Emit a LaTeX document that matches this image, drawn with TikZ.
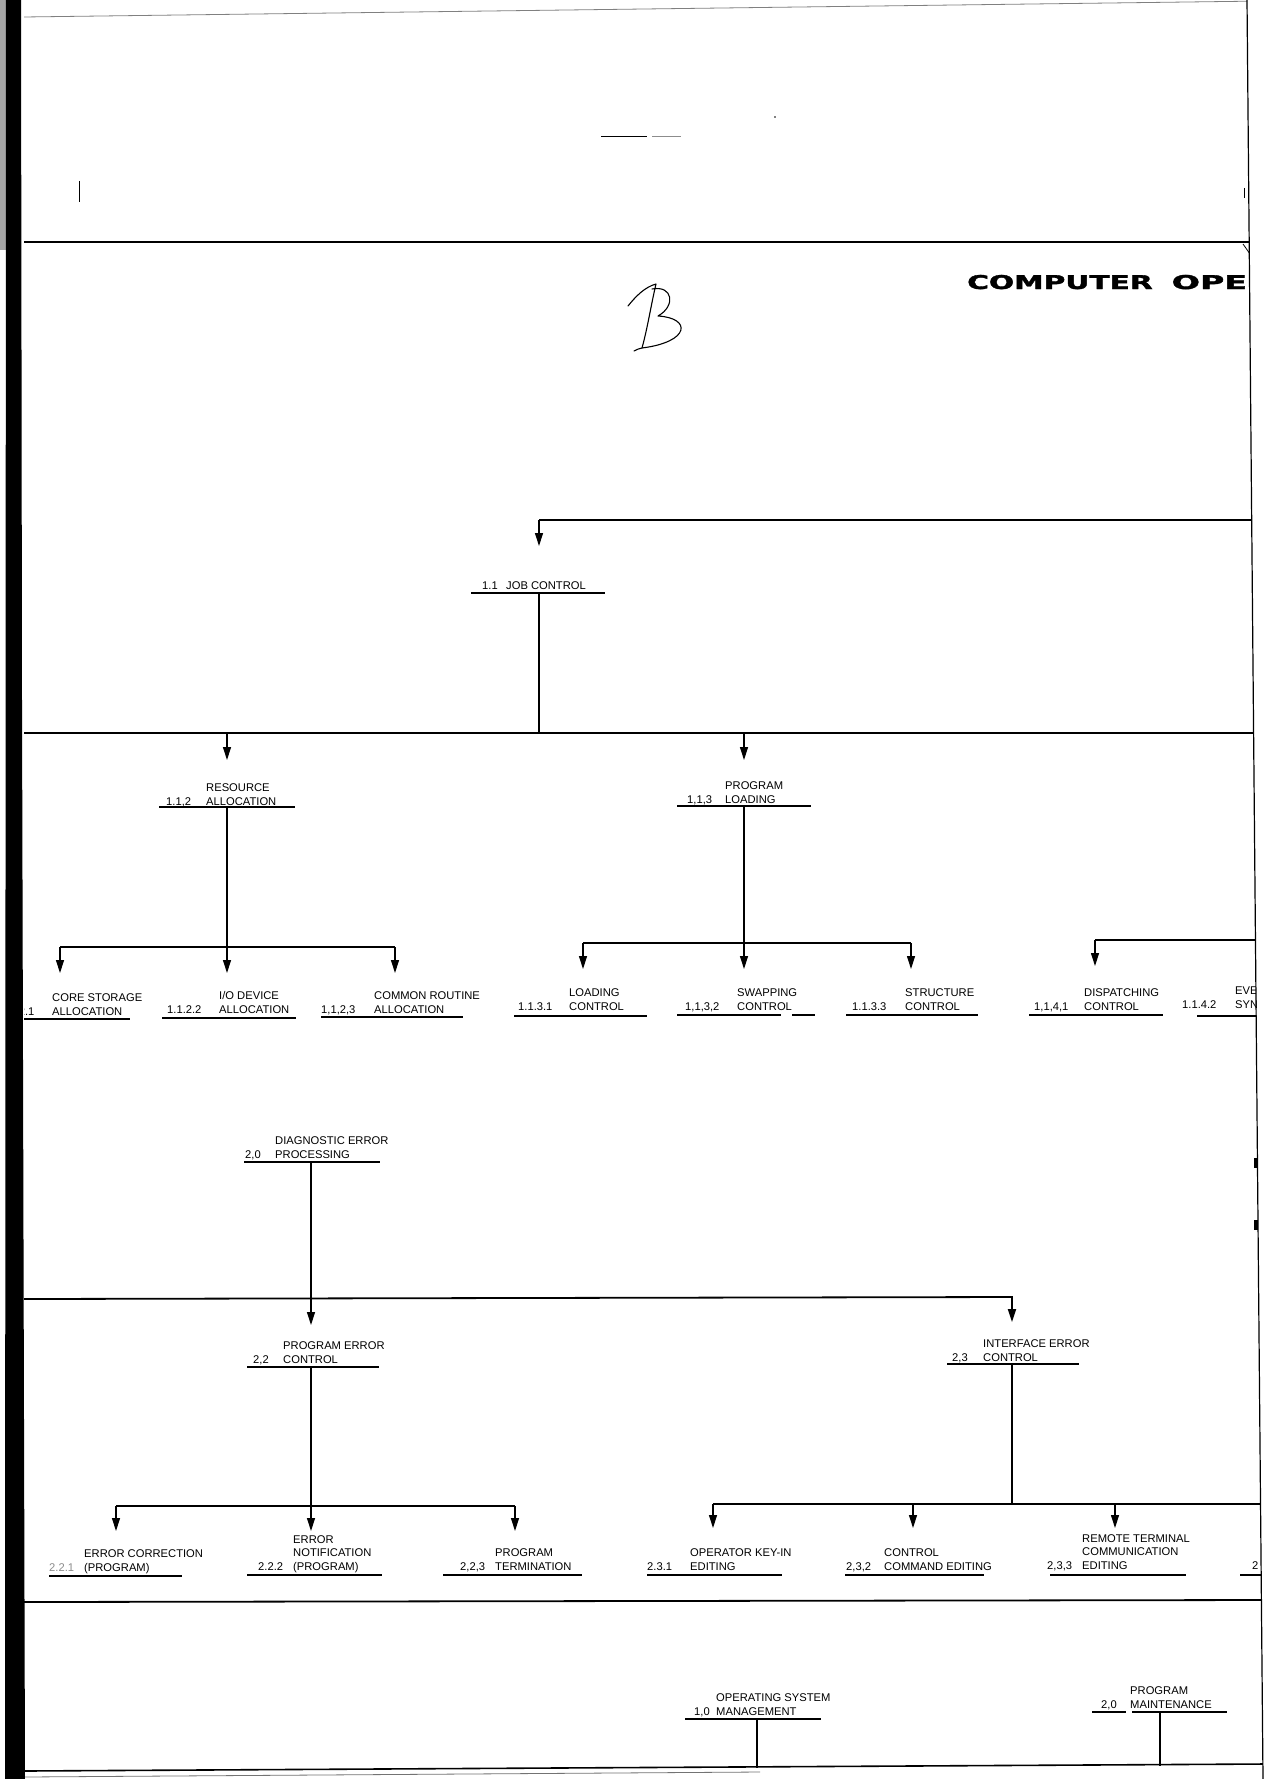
\documentclass[tikz,border=0pt]{standalone}
\usepackage{fontspec}
\setmainfont{Liberation Sans}
\newfontfamily\titlefont[FakeBold=1.6]{DejaVu Sans Bold}
\usetikzlibrary{arrows.meta}
\newcommand\lblfont{\fontsize{11.2}{13.5}\selectfont}
\newcommand\stk[1]{\begin{tabular}[b]{@{}l@{}}#1\end{tabular}}
\newcommand\mklabel[6]{%
  \node[lbl] (#1n) at (#2,#4) {#5};
  \node[lbl] (#1t) at (#3,#4) {\stk{#6}};}
\begin{document}
\begin{tikzpicture}[x=1pt,y=-1pt,
  lbl/.style={font=\lblfont, inner sep=0pt, anchor=base west},
  ul/.style={line width=1.7pt},
  bus/.style={line width=1.8pt},
  conn/.style={line width=1.1pt},
  arr/.style={line width=1.2pt, -{Triangle[length=13pt,width=8pt]}},
  tickline/.style={line width=1pt}]
\useasboundingbox (0,0) rectangle (1275,1779);
\fill[white] (0,0) rectangle (1275,1779);

\begin{scope}
\clip (24,0) -- (1247,0) -- (1263,1779) -- (24,1779) -- cycle;
% ---------- top area marks
\draw[black!50, line width=0.8pt] (24,17) -- (1265,1);
\draw[tickline] (79,181) -- (79,202);
\draw[line width=0.9pt] (601,136) -- (647,136);
\draw[black!45, line width=0.8pt] (652,136) -- (681,136);
\fill (775,117) circle (0.9);
\draw[tickline] (1244,188) -- (1244,198);
\draw[line width=0.8pt] (1243,244) -- (1250,254);
\draw[line width=1.8pt] (24,242) -- (1265,242);

% ---------- title
\node[inner sep=0pt, anchor=base west] (title) at (967,289)
  {\titlefont\fontsize{19}{19}\selectfont\scalebox{1.56}[1]{COMPUTER}\hspace{19pt}\scalebox{1.75}[1]{OPE}};

% ---------- handwritten B
\draw[line width=1.1pt, line cap=round, line join=round]
  (628,306) .. controls (636,296) and (645,287) .. (656,284)
  .. controls (651,305) and (648,326) .. (642,348);
\draw[line width=1.1pt, line cap=round, line join=round]
  (652,289) .. controls (673,285) and (676,306) .. (658,316)
  .. controls (692,318) and (690,342) .. (642,348)
  .. controls (639,349) and (637,349) .. (634,351);

% ---------- bus 0 and job control
\coordinate (b0R) at (1265,520);
\coordinate (b0L) at (539,520);
\coordinate (jcA) at (539,546);
\draw[bus] (b0R) -- (b0L);
\draw[arr] (b0L) -- (jcA);
\mklabel{jc}{482}{506}{589}{1.1}{JOB CONTROL}
\draw[ul] (471,593) -- (605,593);
\coordinate (jcU) at (539,593);
\coordinate (b1j) at (539,733);
\draw[conn] (jcU) -- (b1j);

% ---------- bus 1
\coordinate (b1L) at (24,733);
\coordinate (b1R) at (1265,733);
\draw[bus] (b1L) -- (b1R);
\coordinate (b1a) at (227,733); \coordinate (rsA) at (227,760);
\coordinate (b1b) at (744,733); \coordinate (plA) at (744,760);
\draw[arr] (b1a) -- (rsA);
\draw[arr] (b1b) -- (plA);

% resource allocation
\mklabel{rs}{166}{206}{805}{1.1,2}{RESOURCE\\ALLOCATION}
\draw[ul] (159,807) -- (295,807);
\coordinate (rsU) at (227,807);
\coordinate (b2aM) at (227,947);
\draw[conn] (rsU) -- (b2aM);
\coordinate (b2aL) at (60,947); \coordinate (b2aR) at (395,947);
\draw[bus] (b2aL) -- (b2aR);
\coordinate (csA) at (60,973); \coordinate (ioA) at (227,973); \coordinate (crA) at (395,973);
\draw[arr] (b2aL) -- (csA);
\draw[arr] (b2aM) -- (ioA);
\draw[arr] (b2aR) -- (crA);

% program loading
\mklabel{pl}{687}{725}{803}{1,1,3}{PROGRAM\\LOADING}
\draw[ul] (677,806) -- (811,806);
\coordinate (plU) at (744,806);
\coordinate (b2bM) at (744,943);
\draw[conn] (plU) -- (b2bM);
\coordinate (b2bL) at (583,943); \coordinate (b2bR) at (911,943);
\draw[bus] (b2bL) -- (b2bR);
\coordinate (loA) at (583,969); \coordinate (swA) at (744,969); \coordinate (stA) at (911,969);
\draw[arr] (b2bL) -- (loA);
\draw[arr] (b2bM) -- (swA);
\draw[arr] (b2bR) -- (stA);

% dispatching branch
\coordinate (b2cL) at (1095,940); \coordinate (b2cR) at (1265,940);
\draw[bus] (b2cR) -- (b2cL);
\coordinate (dsA) at (1095,966);
\draw[arr] (b2cL) -- (dsA);

% ---------- leaves row 1
\mklabel{cs}{0}{52}{1015}{1.1.2.1}{CORE STORAGE\\ALLOCATION}
\draw[ul] (24,1019) -- (130,1019);
\mklabel{io}{167}{219}{1013}{1.1.2.2}{I/O DEVICE\\ALLOCATION}
\draw[ul] (162,1018) -- (296,1018);
\mklabel{cr}{321}{374}{1013}{1,1,2,3}{COMMON ROUTINE\\ALLOCATION}
\draw[ul] (321,1017) -- (463,1017);
\mklabel{lo}{518}{569}{1010}{1.1.3.1}{LOADING\\CONTROL}
\draw[ul] (514,1016) -- (647,1016);
\mklabel{sw}{685}{737}{1010}{1,1,3,2}{SWAPPING\\CONTROL}
\draw[ul] (677,1015) -- (781,1015);
\draw[ul] (792,1015) -- (815,1015);
\mklabel{st}{852}{905}{1010}{1.1.3.3}{STRUCTURE\\CONTROL}
\draw[ul] (846,1015) -- (978,1015);
\mklabel{ds}{1034}{1084}{1010}{1,1,4,1}{DISPATCHING\\CONTROL}
\draw[ul] (1029,1015) -- (1163,1015);
\mklabel{ev}{1182}{1235}{1008}{1.1.4.2}{EVE\\SYN}
\draw[ul] (1197,1016) -- (1265,1016);

% ---------- diagnostic error processing
\mklabel{dg}{245}{275}{1158}{2,0}{DIAGNOSTIC ERROR\\PROCESSING}
\draw[ul] (244,1162) -- (380,1162);
\coordinate (dgU) at (311,1162);
\coordinate (peA) at (311,1325);
\draw[arr] (dgU) -- (peA);

% bus 3
\coordinate (b3L) at (24,1299);
\coordinate (b3R) at (1012,1297);
\coordinate (ieA) at (1012,1322);
\draw[bus, -{Triangle[length=13pt,width=8pt]}] (b3L) -- (b3R) -- (ieA);

% program error control
\mklabel{pe}{253}{283}{1363}{2,2}{PROGRAM ERROR\\CONTROL}
\draw[ul] (247,1367) -- (379,1367);
\coordinate (peU) at (311,1367);
\coordinate (b4aM) at (311,1506);
\draw[conn] (peU) -- (b4aM);
\coordinate (b4aL) at (116,1506); \coordinate (b4aR) at (515,1506);
\draw[bus] (b4aL) -- (b4aR);
\coordinate (ecA) at (116,1531); \coordinate (enA) at (311,1531); \coordinate (ptA) at (515,1531);
\draw[arr] (b4aL) -- (ecA);
\draw[arr] (b4aM) -- (enA);
\draw[arr] (b4aR) -- (ptA);

% interface error control
\mklabel{ie}{952}{983}{1361}{2,3}{INTERFACE ERROR\\CONTROL}
\draw[ul] (947,1364) -- (1079,1364);
\coordinate (ieU) at (1012,1364);
\coordinate (b4bM) at (1012,1504);
\draw[conn] (ieU) -- (b4bM);
\coordinate (b4bL) at (713,1504); \coordinate (b4bR) at (1265,1504);
\draw[bus] (b4bL) -- (b4bR);
\coordinate (b4b2) at (913,1504); \coordinate (b4b3) at (1115,1504);
\coordinate (okA) at (713,1528); \coordinate (ccA) at (913,1528); \coordinate (rtA) at (1115,1528);
\draw[arr] (b4bL) -- (okA);
\draw[arr] (b4b2) -- (ccA);
\draw[arr] (b4b3) -- (rtA);

% ---------- leaves row 2
\node[lbl, text=black!45] (ecn) at (49,1571) {2.2.1};
\node[lbl] (ect) at (84,1571) {\stk{ERROR CORRECTION\\(PROGRAM)}};
\draw[ul] (49,1576) -- (182,1576);
\mklabel{en}{258}{293}{1570}{2.2.2}{ERROR\\NOTIFICATION\\(PROGRAM)}
\draw[ul] (247,1575) -- (382,1575);
\mklabel{pt}{460}{495}{1570}{2,2,3}{PROGRAM\\TERMINATION}
\draw[ul] (443,1575) -- (582,1575);
\mklabel{ok}{647}{690}{1570}{2.3.1}{OPERATOR KEY-IN\\EDITING}
\draw[ul] (647,1575) -- (782,1575);
\mklabel{cc}{846}{884}{1570}{2,3,2}{CONTROL\\COMMAND EDITING}
\draw[ul] (845,1575) -- (984,1575);
\mklabel{rt}{1047}{1082}{1569}{2,3,3}{REMOTE TERMINAL\\COMMUNICATION\\EDITING}
\draw[ul] (1050,1575) -- (1186,1575);
\node[lbl] (xn) at (1252,1569) {2};
\draw[ul] (1240,1575) -- (1265,1575);

\draw[line width=1.8pt] (24,1602) -- (1265,1600);

% ---------- bottom section
\mklabel{os}{694}{716}{1715}{1,0}{OPERATING SYSTEM\\MANAGEMENT}
\draw[ul] (685,1719) -- (821,1719);
\coordinate (osU) at (757,1719);
\coordinate (osB) at (757,1768);
\draw[conn] (osU) -- (osB);
\mklabel{pm}{1101}{1130}{1708}{2,0}{PROGRAM\\MAINTENANCE}
\draw[ul] (1092,1712) -- (1126,1712);
\draw[ul] (1132,1712) -- (1227,1712);
\coordinate (pmU) at (1160,1712);
\coordinate (pmB) at (1160,1766);
\draw[conn] (pmU) -- (pmB);

\draw[line width=1.6pt] (24,1771) -- (1265,1764);
\draw[black!55, line width=0.8pt] (24,1777) -- (760,1772);

% marks at right edge
\fill (1254,1158) rectangle (1258,1168);
\fill (1254,1220) rectangle (1258,1230);
\end{scope}

% ---------- frame
\draw[line width=1.2pt] (1247,0) -- (1263,1779);
\fill[black!35] (0,0) rectangle (7,250);
\fill[black] (6,0) -- (21,0) -- (22,700) -- (25,1779) -- (5,1779) -- cycle;
\end{tikzpicture}
\end{document}
